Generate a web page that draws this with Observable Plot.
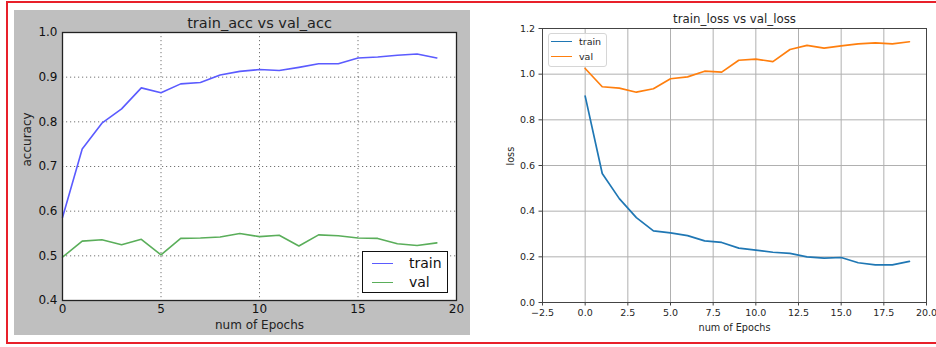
<!DOCTYPE html>
<html>
<head>
<meta charset="utf-8">
<script src="https://cdn.jsdelivr.net/npm/d3@7"></script>
<script src="https://cdn.jsdelivr.net/npm/@observablehq/plot@0.6"></script>
<style>
  html, body { margin: 0; padding: 0; background: #fff; }
  #root { position: relative; width: 936px; height: 347px; overflow: hidden; font-family: "DejaVu Sans", sans-serif; }
  .abs { position: absolute; }
  #border { position: absolute; left: 6px; top: 1px; width: 960px; height: 339px; border: 2.5px solid #e8202a; border-right: none; }
  .leg { position: absolute; box-sizing: border-box; background: #fff; }
  .leg .row { position: absolute; left: 0; display: flex; align-items: center; }
  .leg .sw { display: inline-block; }
</style>
</head>
<body>
<div id="root">
  <div id="border"></div>
  <div id="left" class="abs" style="left:14px; top:10px;"></div>
  <div id="right" class="abs" style="left:472px; top:8px;"></div>
  <div class="leg" style="left:362px; top:251px; width:86px; height:42px; border:1.3px solid #111;">
    <div class="row" style="top:3px; left:9px;"><span class="sw" style="width:21px; height:0; border-top:1.6px solid #5b5bff;"></span><span style="margin-left:16px; font-size:14px; color:#111;">train</span></div>
    <div class="row" style="top:22px; left:9px;"><span class="sw" style="width:21px; height:0; border-top:1.6px solid #5aae5a;"></span><span style="margin-left:16px; font-size:14px; color:#111;">val</span></div>
  </div>
  <div class="leg" style="left:548px; top:33px; width:59px; height:34px; border:1px solid #d6d6d6; border-radius:3px; background:rgba(255,255,255,0.85);">
    <div class="row" style="top:2px; left:2px;"><span class="sw" style="width:21px; height:0; border-top:1.7px solid #1f77b4;"></span><span style="margin-left:7px; font-size:9.5px; color:#262626;">train</span></div>
    <div class="row" style="top:17px; left:2px;"><span class="sw" style="width:21px; height:0; border-top:1.7px solid #ff7f0e;"></span><span style="margin-left:7px; font-size:9.5px; color:#262626;">val</span></div>
  </div>
</div>
<script>
const epochs = [0,1,2,3,4,5,6,7,8,9,10,11,12,13,14,15,16,17,18,19];
const trainAcc = [0.586,0.739,0.797,0.829,0.876,0.865,0.885,0.888,0.905,0.913,0.917,0.915,0.922,0.930,0.930,0.943,0.945,0.949,0.952,0.943];
const valAcc   = [0.497,0.533,0.536,0.525,0.537,0.502,0.539,0.540,0.542,0.550,0.543,0.546,0.522,0.547,0.545,0.540,0.539,0.527,0.523,0.529];
const trainLoss = [0.904,0.565,0.455,0.372,0.314,0.305,0.293,0.270,0.263,0.238,0.229,0.220,0.215,0.200,0.194,0.197,0.174,0.165,0.165,0.180];
const valLoss   = [1.025,0.945,0.939,0.921,0.936,0.980,0.988,1.013,1.009,1.061,1.066,1.055,1.108,1.126,1.114,1.124,1.133,1.137,1.133,1.142];
const seriesNames = ["train", "val"];
const accTicksX = [0,5,10,15,20];
const accTicksY = [0.4,0.5,0.6,0.7,0.8,0.9,1.0];
const lossTicksX = [-2.5,0,2.5,5,7.5,10,12.5,15,17.5,20];
const lossTicksY = [0,0.2,0.4,0.6,0.8,1.0,1.2];

const accData = [
  ...epochs.map((e,i)=>({epoch:e, value:trainAcc[i], series:seriesNames[0]})),
  ...epochs.map((e,i)=>({epoch:e, value:valAcc[i], series:seriesNames[1]}))
];
const lossData = [
  ...epochs.map((e,i)=>({epoch:e, value:trainLoss[i], series:seriesNames[0]})),
  ...epochs.map((e,i)=>({epoch:e, value:valLoss[i], series:seriesNames[1]}))
];

const font = "DejaVu Sans, sans-serif";

const left = Plot.plot({
  width: 456, height: 325,
  marginLeft: 48, marginRight: 14, marginTop: 22, marginBottom: 35,
  style: {background: "#bfbfbf", fontFamily: font, fontSize: "12px", color: "#111", overflow: "visible"},
  x: {domain: [0, 20]},
  y: {domain: [0.4, 1.0]},
  color: {domain: seriesNames, range: ["#5b5bff", "#5aae5a"]},
  marks: [
    Plot.frame({fill: "#fff", stroke: null}),
    Plot.gridX(accTicksX, {stroke: "#000", strokeOpacity: 0.55, strokeDasharray: "1.2,2.8"}),
    Plot.gridY(accTicksY, {stroke: "#000", strokeOpacity: 0.55, strokeDasharray: "1.2,2.8"}),
    Plot.line(accData, {x: "epoch", y: "value", z: "series", stroke: "series", strokeWidth: 1.6}),
    Plot.frame({stroke: "#222", strokeWidth: 1.3}),
    Plot.axisX(accTicksX, {tickSize: 0, tickPadding: 4, label: null, tickFormat: d => String(d)}),
    Plot.axisY(accTicksY, {tickSize: 0, tickPadding: 5, label: null, tickFormat: ".1f"}),
    Plot.text(["train_acc vs val_acc"], {frameAnchor: "top", lineAnchor: "middle", dy: -9, fontSize: 14.5, fill: "#222"}),
    Plot.text(["num of Epochs"], {frameAnchor: "bottom", lineAnchor: "middle", dy: 25, fontSize: 12, fill: "#222"}),
    Plot.text(["accuracy"], {frameAnchor: "left", lineAnchor: "middle", dx: -35, rotate: -90, fontSize: 12, fill: "#222"})
  ]
});
document.getElementById("left").appendChild(left);

const right = Plot.plot({
  width: 464, height: 330,
  marginLeft: 70, marginRight: 10, marginTop: 20, marginBottom: 36,
  style: {background: "#fff", fontFamily: font, fontSize: "9.5px", color: "#262626", overflow: "visible"},
  x: {domain: [-2.5, 20]},
  y: {domain: [0, 1.2]},
  color: {domain: seriesNames, range: ["#1f77b4", "#ff7f0e"]},
  marks: [
    Plot.gridX(lossTicksX, {stroke: "#b0b0b0", strokeOpacity: 1, strokeWidth: 1}),
    Plot.gridY(lossTicksY, {stroke: "#b0b0b0", strokeOpacity: 1, strokeWidth: 1}),
    Plot.line(lossData, {x: "epoch", y: "value", z: "series", stroke: "series", strokeWidth: 1.7}),
    Plot.frame({stroke: "#444", strokeWidth: 1}),
    Plot.axisX(lossTicksX, {tickSize: 3.5, tickPadding: 3, label: null, tickFormat: ".1f", stroke: "#444"}),
    Plot.axisY(lossTicksY, {tickSize: 3.5, tickPadding: 4, label: null, tickFormat: ".1f", stroke: "#444"}),
    Plot.text(["train_loss vs val_loss"], {frameAnchor: "top", lineAnchor: "middle", dy: -9, fontSize: 11.8, fill: "#262626"}),
    Plot.text(["num of Epochs"], {frameAnchor: "bottom", lineAnchor: "middle", dy: 25, fontSize: 9.7, fill: "#262626"}),
    Plot.text(["loss"], {frameAnchor: "left", lineAnchor: "middle", dx: -32, rotate: -90, fontSize: 9.7, fill: "#262626"})
  ]
});
document.getElementById("right").appendChild(right);
</script>
</body>
</html>
